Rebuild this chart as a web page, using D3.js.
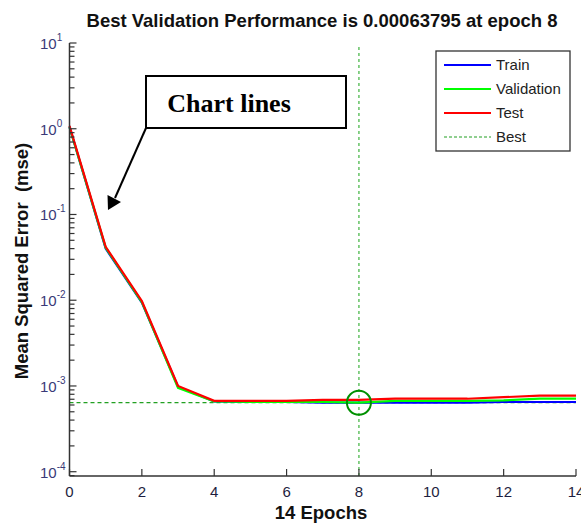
<!DOCTYPE html>
<html>
<head>
<meta charset="utf-8">
<script src="https://cdn.jsdelivr.net/npm/d3@7"></script>
<style>
  body { margin: 0; background: #fff; }
  svg { display: block; font-family: "Liberation Sans", Arial, sans-serif; }
</style>
</head>
<body>
<svg id="chart" width="581" height="525"></svg>
<script>
// epochs and mse per data split
const epochs = [0, 1, 2, 3, 4, 5, 6, 7, 8, 9, 10, 11, 12, 13, 14];
const train = [1.05, 0.040, 0.0094, 0.00098, 0.00066, 0.00065, 0.00065, 0.00064, 0.00064, 0.00064, 0.00064, 0.00064, 0.00065, 0.00065, 0.00065];
const validation = [1.04, 0.041, 0.0095, 0.00095, 0.00066, 0.00065, 0.00065, 0.00065, 0.00063795, 0.00067, 0.00067, 0.00067, 0.00068, 0.00071, 0.00071];
const test = [1.08, 0.042, 0.0098, 0.00100, 0.00067, 0.00067, 0.00067, 0.00069, 0.00069, 0.00071, 0.00071, 0.00071, 0.00074, 0.00077, 0.00077];
const bestEpoch = 8;
const bestValue = 0.00063795;

const xTicks = [0, 2, 4, 6, 8, 10, 12, 14];
const yExponents = [1, 0, -1, -2, -3, -4];

const seriesNames = ["Train", "Validation", "Test"];
const seriesColors = ["#0000ff", "#00ff00", "#ff0000"];

const svg = d3.select("#chart");

const x = d3.scaleLinear().domain([0, 14]).range([69.5, 576]);
const y = d3.scaleLog().domain([Math.pow(10, -4.05), 10]).range([476, 43]);

// Title
svg.append("text")
  .attr("x", 322)
  .attr("y", 27)
  .attr("text-anchor", "middle")
  .attr("font-size", "18.5px")
  .attr("font-weight", "bold")
  .attr("fill", "#111")
  .text("Best Validation Performance is 0.00063795 at epoch 8");

// best lines
svg.append("line")
  .attr("x1", x(0)).attr("x2", x(14))
  .attr("y1", y(bestValue)).attr("y2", y(bestValue))
  .attr("stroke", "#22a022")
  .attr("stroke-width", 1.2)
  .attr("stroke-dasharray", "4,3");

svg.append("line")
  .attr("x1", x(bestEpoch)).attr("x2", x(bestEpoch))
  .attr("y1", 47).attr("y2", y.range()[0])
  .attr("stroke", "#4cb84c")
  .attr("stroke-width", 1.3)
  .attr("stroke-dasharray", "3,3");

// Draw series
const line = d3.line()
  .x((d, i) => x(epochs[i]))
  .y(d => y(d));

[train, validation, test].forEach((s, i) => {
  svg.append("path")
    .datum(s)
    .attr("d", line)
    .attr("fill", "none")
    .attr("stroke", seriesColors[i])
    .attr("stroke-width", 2.2);
});

// best circle
svg.append("circle")
  .attr("cx", x(bestEpoch))
  .attr("cy", y(bestValue))
  .attr("r", 12)
  .attr("fill", "none")
  .attr("stroke", "#009000")
  .attr("stroke-width", 2);

// Y axis (ticks point inward)
const yAxis = svg.append("g")
  .attr("transform", `translate(${x(0)},0)`);

yAxis.append("line")
  .attr("x1", 0).attr("x2", 0)
  .attr("y1", y.range()[1]).attr("y2", y.range()[0])
  .attr("stroke", "#333").attr("stroke-width", 1.5);

const minorVals = [];
for (let e = -5; e <= 0; e++) {
  for (let m = 1; m <= 9; m++) {
    const v = m * Math.pow(10, e);
    if (v >= y.domain()[0] && v <= y.domain()[1]) minorVals.push({ v: v, major: m === 1 });
  }
}
minorVals.push({ v: 10, major: true });

yAxis.selectAll("line.tick")
  .data(minorVals)
  .enter()
  .append("line")
  .attr("class", "tick")
  .attr("x1", 0)
  .attr("x2", d => d.major ? 7 : 5)
  .attr("y1", d => y(d.v)).attr("y2", d => y(d.v))
  .attr("stroke", "#333")
  .attr("stroke-width", 1.2);

const yLabels = svg.selectAll("text.ylab")
  .data(yExponents)
  .enter()
  .append("text")
  .attr("class", "ylab")
  .attr("x", 40)
  .attr("y", d => y(Math.pow(10, d)) + 6)
  .attr("font-size", "15px")
  .attr("fill", "#3a3a78");
yLabels.append("tspan").text("10");
yLabels.append("tspan")
  .attr("dy", -8)
  .attr("font-size", "10px")
  .text(d => d);

// X axis
const xAxis = svg.append("g")
  .attr("transform", `translate(0,${y.range()[0]})`);

xAxis.append("line")
  .attr("x1", x(0)).attr("x2", x(14))
  .attr("y1", 0).attr("y2", 0)
  .attr("stroke", "#333").attr("stroke-width", 1.5);

xAxis.selectAll("line.tick")
  .data(xTicks)
  .enter()
  .append("line")
  .attr("class", "tick")
  .attr("x1", d => x(d)).attr("x2", d => x(d))
  .attr("y1", 0).attr("y2", -7)
  .attr("stroke", "#333").attr("stroke-width", 1.2);

xAxis.selectAll("text")
  .data(xTicks)
  .enter()
  .append("text")
  .attr("x", d => x(d))
  .attr("y", 21)
  .attr("text-anchor", "middle")
  .attr("font-size", "15px")
  .attr("fill", "#1e1e40")
  .text(d => d);

// axis titles
svg.append("text")
  .attr("x", 321)
  .attr("y", 519)
  .attr("text-anchor", "middle")
  .attr("font-size", "18.5px")
  .attr("font-weight", "bold")
  .attr("fill", "#111")
  .text("14 Epochs");

svg.append("text")
  .attr("transform", "translate(28,261) rotate(-90)")
  .attr("text-anchor", "middle")
  .attr("font-size", "18.5px")
  .attr("font-weight", "bold")
  .attr("fill", "#111")
  .style("white-space", "pre")
  .text("Mean Squared Error  (mse)");

// Legend
const legend = svg.append("g");
legend.append("rect")
  .attr("x", 436).attr("y", 51)
  .attr("width", 134).attr("height", 100)
  .attr("fill", "#fff")
  .attr("stroke", "#333")
  .attr("stroke-width", 1.3);

const legendItems = seriesNames.map((n, i) => ({ name: n, color: seriesColors[i], dash: null }))
  .concat([{ name: "Best", color: "#22a022", dash: "3,2" }]);

legendItems.forEach((d, i) => {
  const ly = 65 + i * 24;
  legend.append("line")
    .attr("x1", 444).attr("x2", 491)
    .attr("y1", ly).attr("y2", ly)
    .attr("stroke", d.color)
    .attr("stroke-width", d.dash ? 1.2 : 2)
    .attr("stroke-dasharray", d.dash);
  legend.append("text")
    .attr("x", 496)
    .attr("y", ly + 5)
    .attr("font-size", "15px")
    .attr("fill", "#222")
    .text(d.name);
});

// Annotation box with arrow
svg.append("rect")
  .attr("x", 146).attr("y", 76)
  .attr("width", 200).attr("height", 52)
  .attr("fill", "#fff")
  .attr("stroke", "#000")
  .attr("stroke-width", 2);

svg.append("text")
  .attr("x", 229)
  .attr("y", 112)
  .attr("text-anchor", "middle")
  .attr("font-family", "'Liberation Serif', 'Times New Roman', serif")
  .attr("font-size", "26px")
  .attr("font-weight", "bold")
  .attr("fill", "#000")
  .text("Chart lines");

svg.append("line")
  .attr("x1", 146).attr("y1", 128)
  .attr("x2", 115).attr("y2", 198)
  .attr("stroke", "#000")
  .attr("stroke-width", 2);

svg.append("path")
  .attr("d", "M108,210 L107.5,195 L121,202 Z")
  .attr("fill", "#000");
</script>
</body>
</html>
